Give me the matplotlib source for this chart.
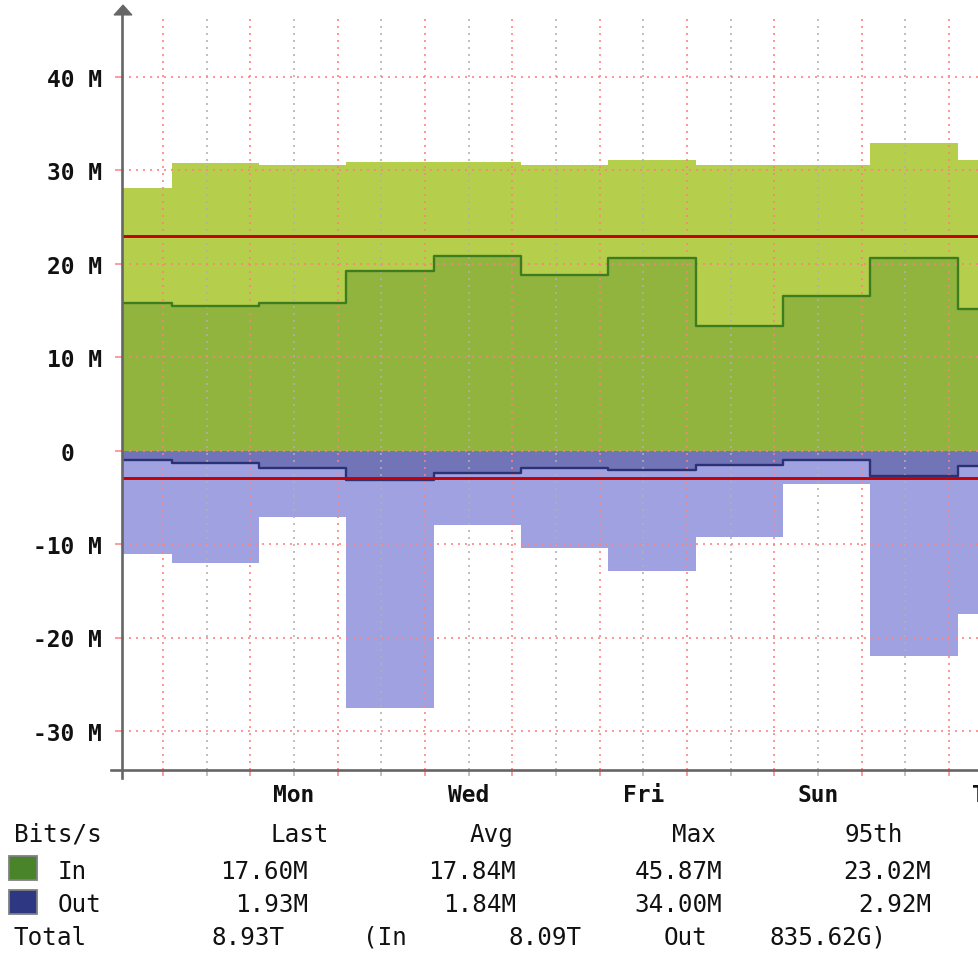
import numpy as np
import matplotlib
matplotlib.use('Agg')
import matplotlib.pyplot as plt
from matplotlib import transforms
from matplotlib.patches import Polygon, Rectangle
from matplotlib.lines import Line2D

W, H, DPI = 979, 954, 100

# ---------------- data (Mbit/s, daily consolidated) ----------------
period_start = [-0.9, 0.1, 1.1, 2.1, 3.1, 4.1, 5.1, 6.1, 7.1, 8.1, 9.1]
period_end = 10.1
in_max = [28.15, 30.83, 30.60, 30.87, 30.87, 30.58, 31.10, 30.58, 30.58, 32.98, 31.08]
in_avg = [15.76, 15.50, 15.83, 19.26, 20.87, 18.79, 20.58, 13.36, 16.58, 20.58, 15.22]
out_avg = [-1.04, -1.29, -1.85, -3.11, -2.36, -1.85, -2.11, -1.57, -1.04, -2.71, -1.62]
out_max = [-11.04, -12.04, -7.04, -27.55, -7.90, -10.40, -12.90, -9.18, -3.61, -21.94, -17.47]
in_p95 = 23.02
out_p95 = -2.92

y_ticks = [-30, -20, -10, 0, 10, 20, 30, 40]
y_labels = ['-30 M', '-20 M', '-10 M', '0', '10 M', '20 M', '30 M', '40 M']
day_grid = [0, 1, 2, 3, 4, 5, 6, 7, 8, 9, 10]
halfday_grid = [0.5, 1.5, 2.5, 3.5, 4.5, 5.5, 6.5, 7.5, 8.5, 9.5]
day_label_pos = [1.5, 3.5, 5.5, 7.5, 9.5]
day_labels = ['Mon', 'Wed', 'Fri', 'Sun', 'Tue']

legend_header = ['Last', 'Avg', 'Max', '95th']
in_stats = ['17.60M', '17.84M', '45.87M', '23.02M']
out_stats = ['1.93M', '1.84M', '34.00M', '2.92M']
total_words = ['8.93T', '(In', '8.09T', 'Out', '835.62G)']

# ---------------- styles ----------------
c_in_max = '#b5cf4c'
c_in_avg = '#91b43e'
c_in_line = '#3e7d1f'
c_out_max = '#a0a1e1'
c_out_avg = '#7174b6'
c_out_line = '#2a3175'
c_p95 = '#c40000'
c_mgrid = '#ff7f7f'
c_grid = '#b0b0b0'
c_axis = '#666666'
mono = 'DejaVu Sans Mono'

fig = plt.figure(figsize=(W / DPI, H / DPI), dpi=DPI)
fig.patch.set_facecolor('white')

# plot area in image pixels
L, R, T, B = 122, 1045, 17, 771
ax = fig.add_axes([L / W, (H - B) / H, (R - L) / W, (B - T) / H])
ax.set_facecolor('white')
ax.set_xlim(-0.4696, 10.1)
ax.set_ylim(-34.17, 46.53)

xs = period_start + [period_end]
def ext(v):
    return list(v) + [v[-1]]

ax.fill_between(xs, 0, ext(in_max), step='post', color=c_in_max, lw=0, zorder=1)
ax.fill_between(xs, 0, ext(in_avg), step='post', color=c_in_avg, lw=0, zorder=1.1)
ax.fill_between(xs, 0, ext(out_max), step='post', color=c_out_max, lw=0, zorder=1)
ax.fill_between(xs, 0, ext(out_avg), step='post', color=c_out_avg, lw=0, zorder=1.1)
ax.step(xs, ext(in_avg), where='post', color=c_in_line, lw=1.7, zorder=3)
ax.step(xs, ext(out_avg), where='post', color=c_out_line, lw=1.7, zorder=3)
ax.axhline(in_p95, color=c_p95, lw=2.1, zorder=4)
ax.axhline(out_p95, color=c_p95, lw=2.1, zorder=4)

# ticks & grid
ax.set_xticks(day_grid)
ax.set_xticks(halfday_grid, minor=True)
ax.set_yticks(y_ticks)
ax.set_axisbelow(False)
dots = (0, (1.2, 3.0))
ax.xaxis.grid(True, which='major', color=c_mgrid, ls=dots, lw=1.2, alpha=0.95)
ax.xaxis.grid(True, which='minor', color=c_grid, ls=dots, lw=1.2, alpha=0.95)
ax.yaxis.grid(True, which='major', color=c_mgrid, ls=dots, lw=1.2, alpha=0.95)
ax.tick_params(axis='x', which='major', direction='out', length=4.5, width=1.1,
               color=c_mgrid, labelbottom=False)
ax.tick_params(axis='x', which='minor', direction='out', length=4.5, width=1.1,
               color=c_grid, labelbottom=False)
ax.tick_params(axis='y', which='major', direction='out', length=5, width=1.1,
               color=c_mgrid, labelleft=False)
for s in ax.spines.values():
    s.set_visible(False)

# pixel transform (image coords, y down)
px = transforms.Affine2D().scale(1, -1).translate(0, H)

# axis lines + arrow
fig.add_artist(Line2D([L, L], [779, 15], transform=px, color=c_axis, lw=1.9))
fig.add_artist(Line2D([111, W + 5], [B, B], transform=px, color=c_axis, lw=1.9))
fig.add_artist(Polygon([(114, 16), (132, 16), (123, 6)], closed=True,
                       transform=px, facecolor=c_axis, edgecolor=c_axis, lw=0.8))

# y tick labels
fs_tick = 16.5
adv_tick = 0.602 * fs_tick * DPI / 72
ty = transforms.blended_transform_factory(transforms.IdentityTransform(), ax.transData) \
    + transforms.Affine2D().translate(0, -8.8)
for v, lab in zip(y_ticks, y_labels):
    xr = 102 if lab != '0' else 102 - 2 * adv_tick
    fig.text(xr, v, lab, transform=ty, ha='right', va='baseline',
             fontsize=fs_tick, family=mono, weight='bold', color='#111111')

# x day labels
tx = transforms.blended_transform_factory(ax.transData, transforms.IdentityTransform())
for p, lab in zip(day_label_pos, day_labels):
    ax.text(p, H - 802, lab, transform=tx, ha='center', va='baseline',
            fontsize=fs_tick, family=mono, weight='bold', color='#111111', clip_on=False)

# legend
fs_leg = 17.5
kw = dict(transform=px, fontsize=fs_leg, family=mono, color='#111111', va='baseline')
fig.text(14, 842, 'Bits/s', ha='left', **kw)
for cx, lab in zip([300, 492, 694, 874], legend_header):
    fig.text(cx, 842, lab, ha='center', **kw)

fig.add_artist(Rectangle((9, 857), 28, 24, transform=px, facecolor='#4a842a',
                         edgecolor='#808080', lw=1.3))
fig.add_artist(Rectangle((9, 891), 28, 24, transform=px, facecolor='#2e3882',
                         edgecolor='#808080', lw=1.3))
fig.text(58, 879, 'In', ha='left', **kw)
fig.text(58, 912, 'Out', ha='left', **kw)
col_right = [308, 516, 722, 931]
for xr, lab in zip(col_right, in_stats):
    fig.text(xr, 879, lab, ha='right', **kw)
for xr, lab in zip(col_right, out_stats):
    fig.text(xr, 912, lab, ha='right', **kw)

fig.text(14, 945, 'Total', ha='left', **kw)
for cx, lab in zip([248, 385, 545, 686, 828], total_words):
    fig.text(cx, 945, lab, ha='center', **kw)

fig.savefig('out.png', dpi=DPI, facecolor='white')
